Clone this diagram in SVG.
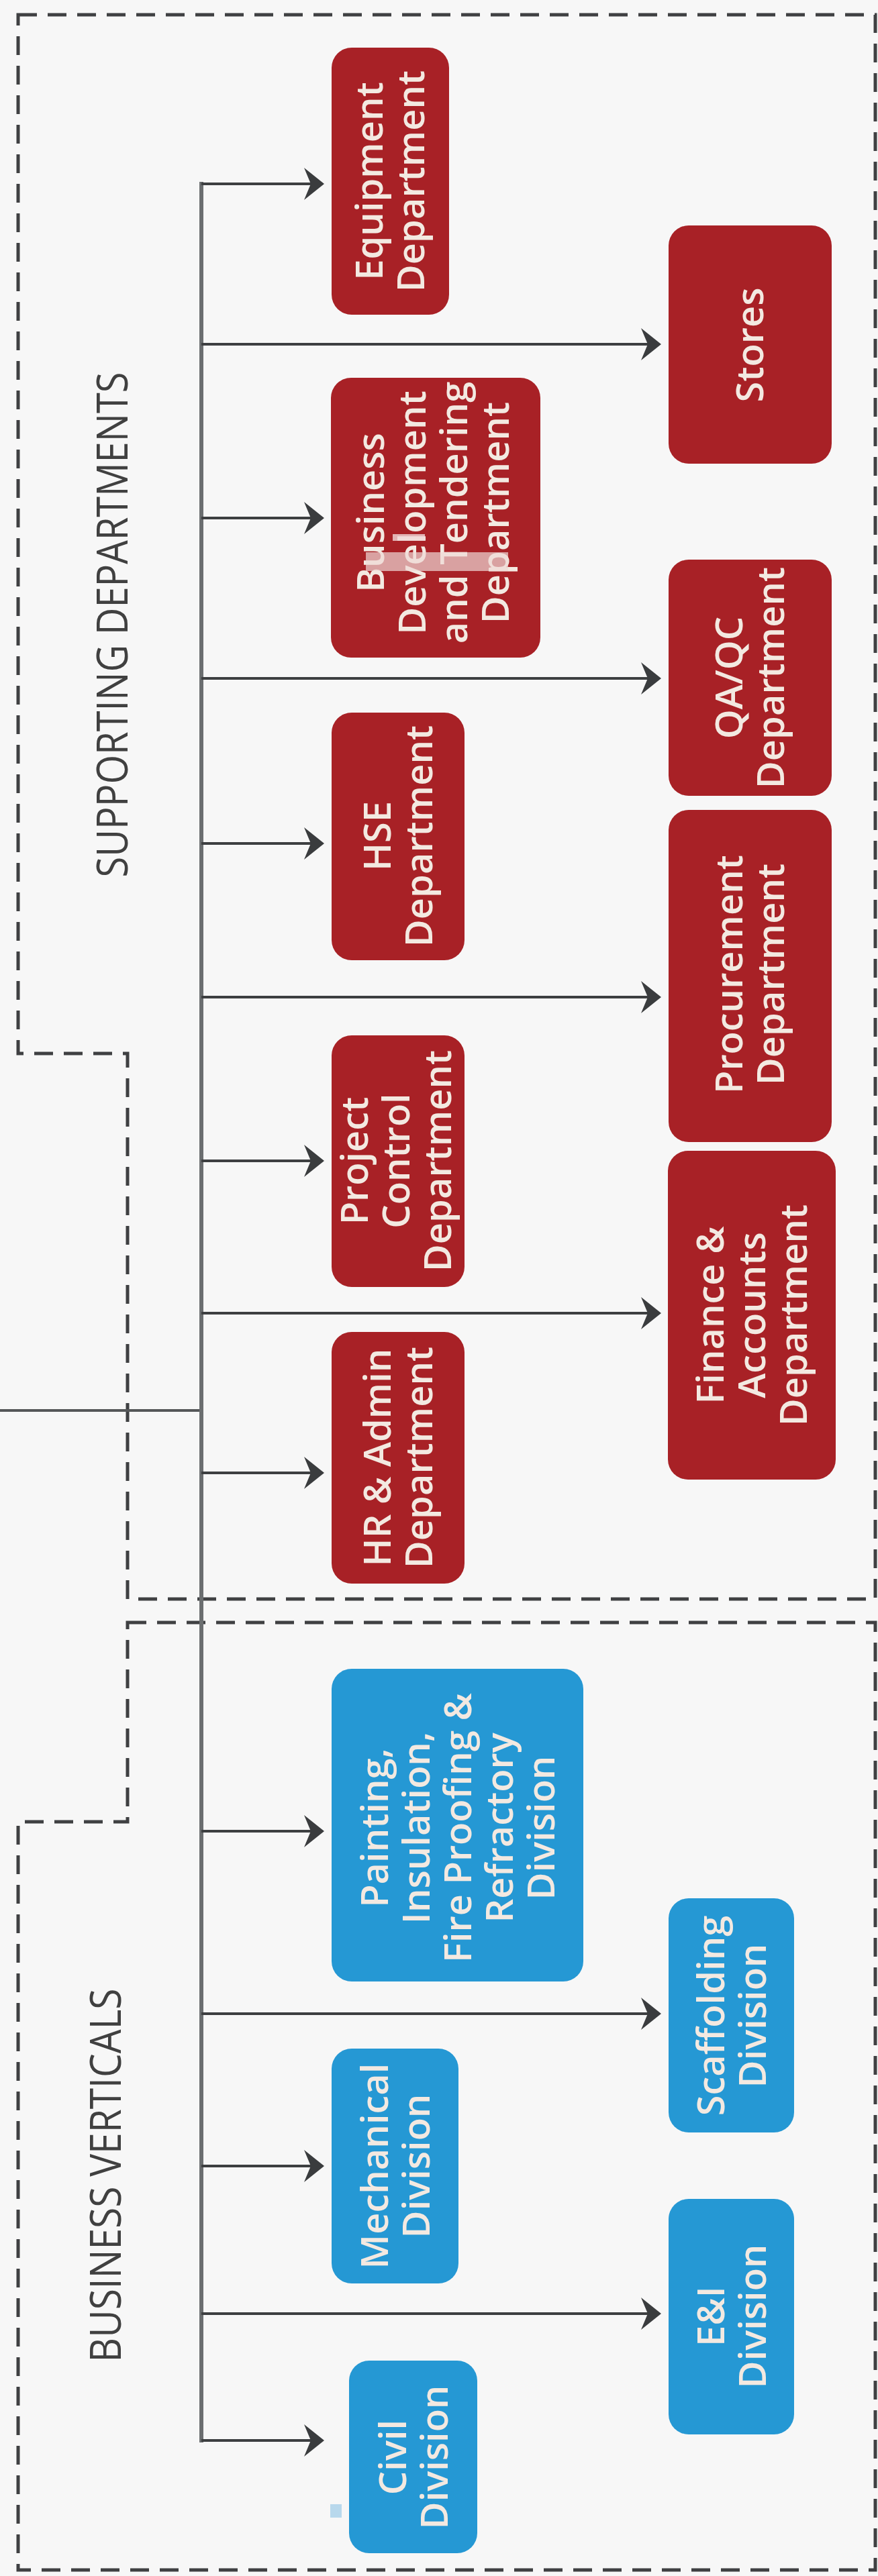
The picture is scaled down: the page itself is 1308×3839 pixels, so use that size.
<svg xmlns="http://www.w3.org/2000/svg" width="1308" height="3839" viewBox="0 0 1308 3839">
<style>
.bg{fill:#f7f7f7}
.frame{fill:none;stroke:#3f4042;stroke-width:5;stroke-dasharray:28 16}
.title{font-family:"Open Sans","DejaVu Sans",sans-serif;font-size:64px;font-weight:500;fill:#404040;text-anchor:middle}
.red{fill:#a82126}
.blue{fill:#2598d4}
.lbl{font-family:"Open Sans","DejaVu Sans",sans-serif;font-size:56px;font-weight:600;fill:#f3e9e1;text-anchor:middle}
.trunk{fill:none;stroke:#6b6e70;stroke-width:6}
.parent{fill:none;stroke:#555759;stroke-width:4}
.br{fill:none;stroke:#3d3f41;stroke-width:4;marker-end:url(#ah)}
</style>
<defs>
<marker id="ah" markerUnits="userSpaceOnUse" markerWidth="32" markerHeight="50" refX="10" refY="25" orient="auto">
<path d="M0,1 L30,25 L0,49 L10,25 Z" fill="#3a3c3e"/>
</marker>
</defs>
<rect class="bg" x="0" y="0" width="1308" height="3839"/>
<g id="frames">
<path id="supporting-frame" class="frame" d="M27,22 H1304 V2383 H190 V1570 H27 Z"/>
<path id="business-frame" class="frame" d="M190,2418 H1304 V3830 H27 V2715 H190 Z"/>
<text class="title" transform="translate(190,931) rotate(-90)" textLength="753" lengthAdjust="spacingAndGlyphs">SUPPORTING DEPARTMENTS</text>
<text class="title" transform="translate(180,3242) rotate(-90)" textLength="557" lengthAdjust="spacingAndGlyphs">BUSINESS VERTICALS</text>
</g>
<g id="connectors">
<path class="parent" d="M0,2102 H300"/>
<path class="trunk" d="M300,271 V3640"/>
<path class="br" d="M300,274 H463"/>
<path class="br" d="M300,513 H965"/>
<path class="br" d="M300,772 H463"/>
<path class="br" d="M300,1011 H965"/>
<path class="br" d="M300,1257 H463"/>
<path class="br" d="M300,1486 H965"/>
<path class="br" d="M300,1730 H463"/>
<path class="br" d="M300,1957 H965"/>
<path class="br" d="M300,2195 H463"/>
<path class="br" d="M300,2729 H463"/>
<path class="br" d="M300,3001 H965"/>
<path class="br" d="M300,3228 H463"/>
<path class="br" d="M300,3448 H965"/>
<path class="br" d="M300,3637 H463"/>
</g>
<g id="equipment">
<rect class="red" x="494" y="71" width="175" height="398" rx="30"/>
<text class="lbl" transform="translate(581,270) rotate(-90)"><tspan x="0" y="-11">Equipment</tspan><tspan x="0" y="51">Department</tspan></text>
</g>
<g id="stores">
<rect class="red" x="996" y="336" width="243" height="355" rx="30"/>
<text class="lbl" transform="translate(1117,514) rotate(-90)"><tspan x="0" y="20">Stores</tspan></text>
</g>
<g id="business-development">
<rect class="red" x="493" y="563" width="312" height="417" rx="30"/>
<text class="lbl" transform="translate(645,764) rotate(-90)"><tspan x="0" y="-73">Business</tspan><tspan x="0" y="-11">Development</tspan><tspan x="0" y="51">and Tendering</tspan><tspan x="0" y="113">Department</tspan></text>
<rect x="545" y="823" width="212" height="28" fill="#eed9d5" opacity="0.7"/>
<rect x="585" y="796" width="48" height="10" fill="#f0d8d8" opacity="0.8"/>
</g>
<g id="qa-qc">
<rect class="red" x="996" y="834" width="243" height="352" rx="30"/>
<text class="lbl" transform="translate(1117,1010) rotate(-90)"><tspan x="0" y="-11">QA/QC</tspan><tspan x="0" y="51">Department</tspan></text>
</g>
<g id="hse">
<rect class="red" x="494" y="1062" width="198" height="369" rx="30"/>
<text class="lbl" transform="translate(593,1246) rotate(-90)"><tspan x="0" y="-11">HSE</tspan><tspan x="0" y="51">Department</tspan></text>
</g>
<g id="procurement">
<rect class="red" x="996" y="1207" width="243" height="495" rx="30"/>
<text class="lbl" transform="translate(1117,1452) rotate(-90)"><tspan x="0" y="-11">Procurement</tspan><tspan x="0" y="51">Department</tspan></text>
</g>
<g id="project-control">
<rect class="red" x="494" y="1543" width="198" height="375" rx="30"/>
<text class="lbl" transform="translate(590,1730) rotate(-90)"><tspan x="0" y="-42">Project</tspan><tspan x="0" y="20">Control</tspan><tspan x="0" y="82">Department</tspan></text>
</g>
<g id="finance">
<rect class="red" x="995" y="1715" width="250" height="490" rx="30"/>
<text class="lbl" transform="translate(1120,1960) rotate(-90)"><tspan x="0" y="-42">Finance &amp;</tspan><tspan x="0" y="20">Accounts</tspan><tspan x="0" y="82">Department</tspan></text>
</g>
<g id="hr-admin">
<rect class="red" x="494" y="1985" width="198" height="375" rx="30"/>
<text class="lbl" transform="translate(593,2172) rotate(-90)"><tspan x="0" y="-11">HR &amp; Admin</tspan><tspan x="0" y="51">Department</tspan></text>
</g>
<g id="painting">
<rect class="blue" x="494" y="2487" width="375" height="466" rx="30"/>
<text class="lbl" transform="translate(682,2724) rotate(-90)"><tspan x="0" y="-104">Painting,</tspan><tspan x="0" y="-42">Insulation,</tspan><tspan x="0" y="20">Fire Proofing &amp;</tspan><tspan x="0" y="82">Refractory</tspan><tspan x="0" y="144">Division</tspan></text>
</g>
<g id="scaffolding">
<rect class="blue" x="996" y="2829" width="187" height="349" rx="30"/>
<text class="lbl" transform="translate(1090,3004) rotate(-90)"><tspan x="0" y="-11">Scaffolding</tspan><tspan x="0" y="51">Division</tspan></text>
</g>
<g id="mechanical">
<rect class="blue" x="494" y="3053" width="189" height="350" rx="30"/>
<text class="lbl" transform="translate(589,3228) rotate(-90)"><tspan x="0" y="-11">Mechanical</tspan><tspan x="0" y="51">Division</tspan></text>
</g>
<g id="e-and-i">
<rect class="blue" x="996" y="3277" width="187" height="351" rx="30"/>
<text class="lbl" transform="translate(1090,3452) rotate(-90)"><tspan x="0" y="-11">E&amp;I</tspan><tspan x="0" y="51">Division</tspan></text>
</g>
<g id="civil">
<rect class="blue" x="520" y="3518" width="191" height="287" rx="30"/>
<rect x="492" y="3732" width="17" height="20" fill="#a8cfe8" opacity="0.8"/>
<text class="lbl" transform="translate(616,3662) rotate(-90)"><tspan x="0" y="-11">Civil</tspan><tspan x="0" y="51">Division</tspan></text>
</g>
</svg>
